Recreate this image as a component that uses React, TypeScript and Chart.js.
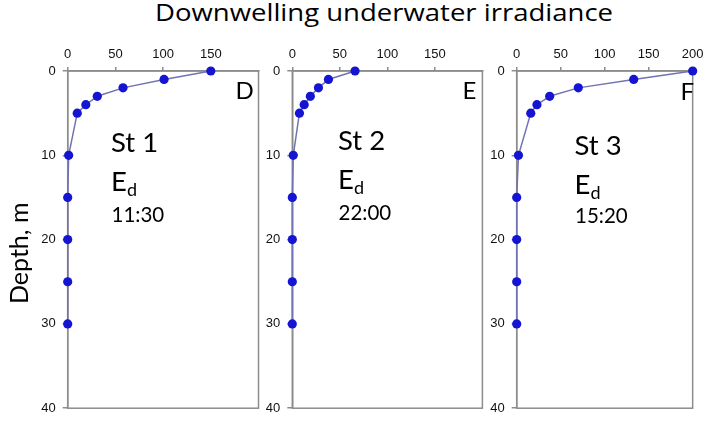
import React, { useEffect, useRef } from "react";
import { Chart, registerables } from "chart.js";

Chart.register(...registerables);

// ---- data ----
const depths = [0, 1, 2, 3, 4, 5, 10, 15, 20, 25, 30];
const st1Ed = [150, 101, 58, 31, 19, 10, 1, 0, 0, 0, 0];
const st2Ed = [66, 38, 27.5, 19, 12.5, 7.5, 1, 0, 0, 0, 0];
const st3Ed = [200, 133, 70, 37.5, 23, 16, 2, 0, 0, 0, 0];
const xTicksShort = [0, 50, 100, 150];
const xTicksFull = [0, 50, 100, 150, 200];
const yTicks = [0, 10, 20, 30, 40];
const stationNames = ["St 1", "St 2", "St 3"];
const panelLetters = ["D", "E", "F"];
const times = ["11:30", "22:00", "15:20"];
const titleText = "Downwelling underwater irradiance";
const yTitle = "Depth, m";

// ---- layout / style ----
const AXIS = "#8c8c8c";
const LINE = "#7272b4";
const POINT = "#1414d2";
const TICK_FONT = { family: "'Liberation Sans', Arial, sans-serif", size: 13 };
const TEXT_FONT = "Lato, 'Open Sans', sans-serif";
const TITLE_FONT = "'Open Sans', Lato, sans-serif";
const TITLE_SIZE = 23;
const TITLE_WIDTH = 458;

const panels = [
  { left: 0, width: 264, yW: 67.7, padR: 5.5, values: st1Ed, xt: xTicksShort },
  { left: 264, width: 223, yW: 28.3, padR: 4, values: st2Ed, xt: xTicksShort },
  { left: 487, width: 221, yW: 29.7, padR: 12.5, values: st3Ed, xt: xTicksFull },
];

const annot = [
  { st: [111, 152.7], e: [111, 191.7], t: [111.5, 222.3], l: [235.5, 99] },
  { st: [338, 150.7], e: [338, 189.3], t: [338.5, 220], l: [462.5, 99] },
  { st: [574.5, 155], e: [574.5, 194], t: [575, 223.3], l: [680.5, 100] },
];

const boxPlugin = {
  id: "box",
  beforeDatasetsDraw(chart: any) {
    const { ctx, chartArea: a } = chart;
    ctx.save();
    ctx.strokeStyle = AXIS;
    ctx.lineWidth = 1.5;
    ctx.strokeRect(a.left, a.top, a.right - a.left, a.bottom - a.top);
    ctx.restore();
  },
};

function measure(text: string, font: string): number {
  const c = document.createElement("canvas").getContext("2d");
  if (!c) return TITLE_WIDTH;
  c.font = font;
  return c.measureText(text).width || TITLE_WIDTH;
}

function Panel({ p }: { p: any }) {
  const ref = useRef<HTMLCanvasElement | null>(null);
  useEffect(() => {
    if (!ref.current) return;
    const chart = new Chart(ref.current, {
      type: "line",
      data: {
        datasets: [
          {
            data: depths.map((d, i) => ({ x: p.values[i], y: d })),
            borderColor: LINE,
            backgroundColor: POINT,
            pointBackgroundColor: POINT,
            pointBorderColor: POINT,
            pointBorderWidth: 0,
            pointRadius: 4.6,
            borderWidth: 1.5,
            tension: 0,
            clip: false as any,
          },
        ],
      },
      options: {
        responsive: false,
        animation: false,
        layout: { padding: { top: 0, left: 0, right: p.padR, bottom: 9 } },
        plugins: { legend: { display: false }, tooltip: { enabled: false } },
        scales: {
          x: {
            type: "linear",
            position: "top",
            min: 0,
            max: 200,
            afterBuildTicks: (s: any) => {
              s.ticks = p.xt.map((v: number) => ({ value: v }));
            },
            afterFit: (s: any) => {
              s.height = 31;
            },
            grid: { display: true, drawOnChartArea: false, tickLength: 4, color: AXIS, lineWidth: 1.5 },
            border: { display: true, color: AXIS, width: 1.5 },
            ticks: { font: TICK_FONT, color: "#111", padding: 4.5, maxRotation: 0, autoSkip: false },
          },
          y: {
            type: "linear",
            reverse: true,
            min: 0,
            max: 40,
            afterBuildTicks: (s: any) => {
              s.ticks = yTicks.map((v) => ({ value: v }));
            },
            afterFit: (s: any) => {
              s.width = p.yW;
            },
            grid: { display: true, drawOnChartArea: false, tickLength: 5, color: AXIS, lineWidth: 1.5 },
            border: { display: true, color: AXIS, width: 1.5 },
            ticks: { font: TICK_FONT, color: "#111", padding: 7, autoSkip: false },
          },
        },
      } as any,
      plugins: [boxPlugin],
    });
    return () => chart.destroy();
  }, []);
  return (
    <canvas
      ref={ref}
      width={p.width}
      height={383}
      style={{ position: "absolute", left: p.left, top: 40, width: p.width, height: 383 }}
    />
  );
}

function Txt({
  x,
  base,
  size,
  children,
  sx,
  font,
}: {
  x: number;
  base: number;
  size: number;
  children: any;
  sx?: number;
  font?: string;
}) {
  return (
    <div
      style={{
        position: "absolute",
        left: x,
        top: base - 0.887 * size,
        fontFamily: font || TEXT_FONT,
        fontSize: size,
        lineHeight: 1,
        whiteSpace: "nowrap",
        color: "#000",
        transformOrigin: "left top",
        transform: sx ? `scaleX(${sx})` : undefined,
      }}
    >
      {children}
    </div>
  );
}

export default function App() {
  const tw = measure(titleText, `${TITLE_SIZE}px ${TITLE_FONT}`);
  const sx = TITLE_WIDTH / tw;
  return (
    <div style={{ position: "absolute", left: 0, top: 0, width: 708, height: 423, background: "#fff", overflow: "hidden" }}>
      {panels.map((p, i) => (
        <Panel key={i} p={p} />
      ))}
      <Txt x={155} base={21.7} size={TITLE_SIZE} sx={sx} font={TITLE_FONT}>
        {titleText}
      </Txt>
      <div
        style={{
          position: "absolute",
          left: 6.1,
          top: 303.5,
          transformOrigin: "left top",
          transform: "rotate(-90deg)",
          fontFamily: TEXT_FONT,
          fontSize: 25,
          lineHeight: 1,
          whiteSpace: "nowrap",
        }}
      >
        {yTitle}
      </div>
      {annot.map((a, i) => (
        <React.Fragment key={i}>
          <Txt x={a.st[0]} base={a.st[1]} size={27.5}>
            {stationNames[i]}
          </Txt>
          <Txt x={a.e[0]} base={a.e[1]} size={27.5}>
            E<span style={{ fontSize: 18, position: "relative", top: 5 }}>d</span>
          </Txt>
          <Txt x={a.t[0]} base={a.t[1]} size={20.5}>
            {times[i]}
          </Txt>
          <Txt x={a.l[0]} base={a.l[1]} size={24}>
            {panelLetters[i]}
          </Txt>
        </React.Fragment>
      ))}
    </div>
  );
}
